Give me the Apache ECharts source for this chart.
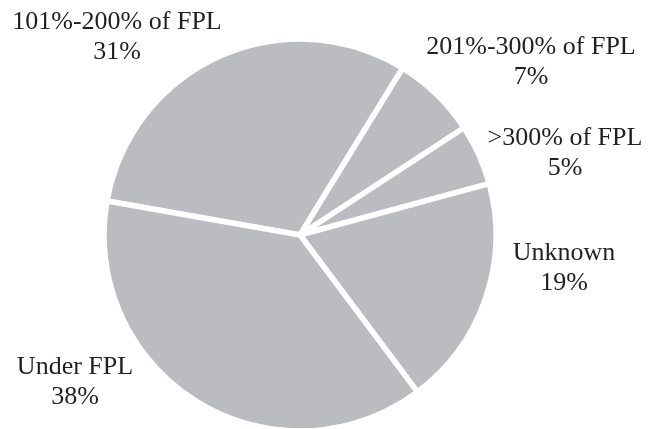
<!DOCTYPE html>
<html>
<head>
<meta charset="utf-8">
<script src="https://cdn.jsdelivr.net/npm/echarts@6/dist/echarts.min.js"></script>
<style>
html,body{margin:0;padding:0;background:#fff;}
#main{width:662px;height:429px;}
</style>
</head>
<body>
<div id="main"></div>
<script>
var categories = ['101%-200% of FPL', '201%-300% of FPL', '>300% of FPL', 'Unknown', 'Under FPL'];
var shares = [31, 7, 5, 19, 38];

// label block centres, one per slice
var labelPos = [[117, 37], [531, 62], [565, 153], [564, 268], [75, 382]];

function buildData() {
    var out = [];
    for (var i = 0; i < categories.length; i++) {
        out.push({ name: categories[i], value: shares[i] });
    }
    return out;
}

var myChart = echarts.init(document.getElementById('main'));
var option = {
    animation: false,
    series: [
        {
            type: 'pie',
            center: [300, 235],
            radius: 196,
            startAngle: 170,
            clockwise: true,
            itemStyle: {
                color: '#bbbcc0',
                borderColor: '#ffffff',
                borderWidth: 5.5
            },
            label: {
                show: true,
                position: 'outside',
                formatter: '{b}\n{c}%',
                fontFamily: 'Liberation Serif',
                fontSize: 26,
                lineHeight: 30,
                color: '#231f20',
                overflow: 'none',
                width: 300
            },
            labelLine: { show: false },
            labelLayout: function (params) {
                var p = labelPos[params.dataIndex];
                return { x: p[0], y: p[1], align: 'center', verticalAlign: 'middle' };
            },
            emphasis: { disabled: true },
            data: buildData()
        }
    ]
};
myChart.setOption(option);
</script>
</body>
</html>
